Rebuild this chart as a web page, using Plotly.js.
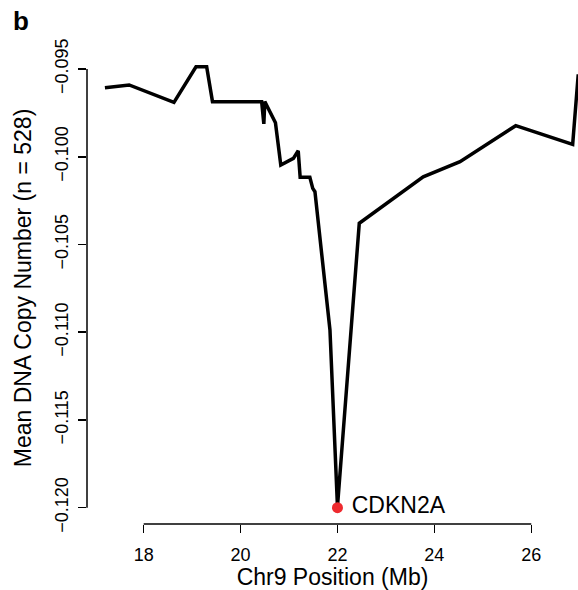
<!DOCTYPE html>
<html>
<head>
<meta charset="utf-8">
<script src="https://cdn.plot.ly/plotly-3.0.1.min.js"></script>
<style>html,body{margin:0;padding:0;background:#fff;}#chart{width:578px;height:590px;}</style>
</head>
<body>
<div id="chart"></div>
<script>
// Chr9 position (Mb) and mean DNA copy number
const positions = [17.20, 17.70, 18.625, 19.08, 19.30, 19.42, 20.435, 20.48, 20.50, 20.72, 20.83, 21.09, 21.19, 21.23, 21.43, 21.49, 21.535, 21.845, 22.00, 22.45, 23.77, 24.53, 25.68, 26.855, 26.97];
const copyNumber = [-0.09607, -0.09591, -0.09690, -0.09487, -0.09487, -0.09686, -0.09686, -0.09813, -0.09686, -0.09806, -0.10047, -0.10009, -0.09966, -0.10117, -0.10117, -0.10180, -0.10199, -0.10987, -0.11994, -0.10379, -0.10114, -0.10028, -0.09823, -0.09929, -0.09530];
const geneName = ["CDKN2A"];
const genePos = [22.00];
const geneValue = [-0.1200];
const xTicks = [18, 20, 22, 24, 26];
const yTicks = [-0.095, -0.100, -0.105, -0.110, -0.115, -0.120];

const font = "Liberation Sans, Arial, Helvetica, sans-serif";

const traces = [
  {x: positions, y: copyNumber, type: "scatter", mode: "lines",
   line: {color: "#000000", width: 3.5}, hoverinfo: "skip"},
  {x: genePos, y: geneValue, type: "scatter", mode: "markers+text",
   marker: {color: "#ee2a2f", size: 11}, text: geneName.map(s => " " + s),
   textposition: "middle right", textfont: {family: font, size: 23, color: "#000"},
   cliponaxis: false, hoverinfo: "skip"}
];

const layout = {
  width: 578, height: 590,
  margin: {l: 87, r: 0, t: 52, b: 66},
  paper_bgcolor: "#fff", plot_bgcolor: "#fff",
  showlegend: false,
  font: {family: font, color: "#000"},
  xaxis: {range: [16.83, 26.965], tickvals: xTicks, ticktext: xTicks.map(String),
    ticks: "outside", ticklen: 8, tickwidth: 1.5, tickcolor: "#000",
    showline: false, showgrid: false, zeroline: false, ticklabelstandoff: 6,
    tickfont: {size: 18, family: font},
    title: {text: "Chr9 Position (Mb)", font: {size: 23, family: font}, standoff: 4}},
  yaxis: {range: [-0.12093, -0.09403], tickvals: yTicks, ticktext: yTicks.map(v => (v < 0 ? "\u2212" : "") + Math.abs(v).toFixed(3)),
    ticks: "outside", ticklen: 8, tickwidth: 1.5, tickcolor: "#000", tickangle: -90,
    showline: false, showgrid: false, zeroline: false, ticklabelstandoff: 3,
    tickfont: {size: 18, family: font},
    title: {text: "Mean DNA Copy Number (n = 528)", font: {size: 23, family: font}, standoff: 13}},
  shapes: [
    {type: "line", xref: "x", yref: "paper", x0: xTicks[0], x1: xTicks[xTicks.length - 1], y0: 0, y1: 0,
     line: {color: "#000", width: 1.5}},
    {type: "line", xref: "paper", yref: "y", x0: 0, x1: 0, y0: yTicks[0], y1: yTicks[yTicks.length - 1],
     line: {color: "#000", width: 1.5}}
  ],
  annotations: [
    {text: "<b>b</b>", xref: "paper", yref: "paper", x: -0.155, y: 1.066, xanchor: "left", yanchor: "middle",
     showarrow: false, font: {size: 26, family: font, color: "#000"}}
  ]
};

Plotly.newPlot("chart", traces, layout, {displayModeBar: false, staticPlot: true});
</script>
</body>
</html>
